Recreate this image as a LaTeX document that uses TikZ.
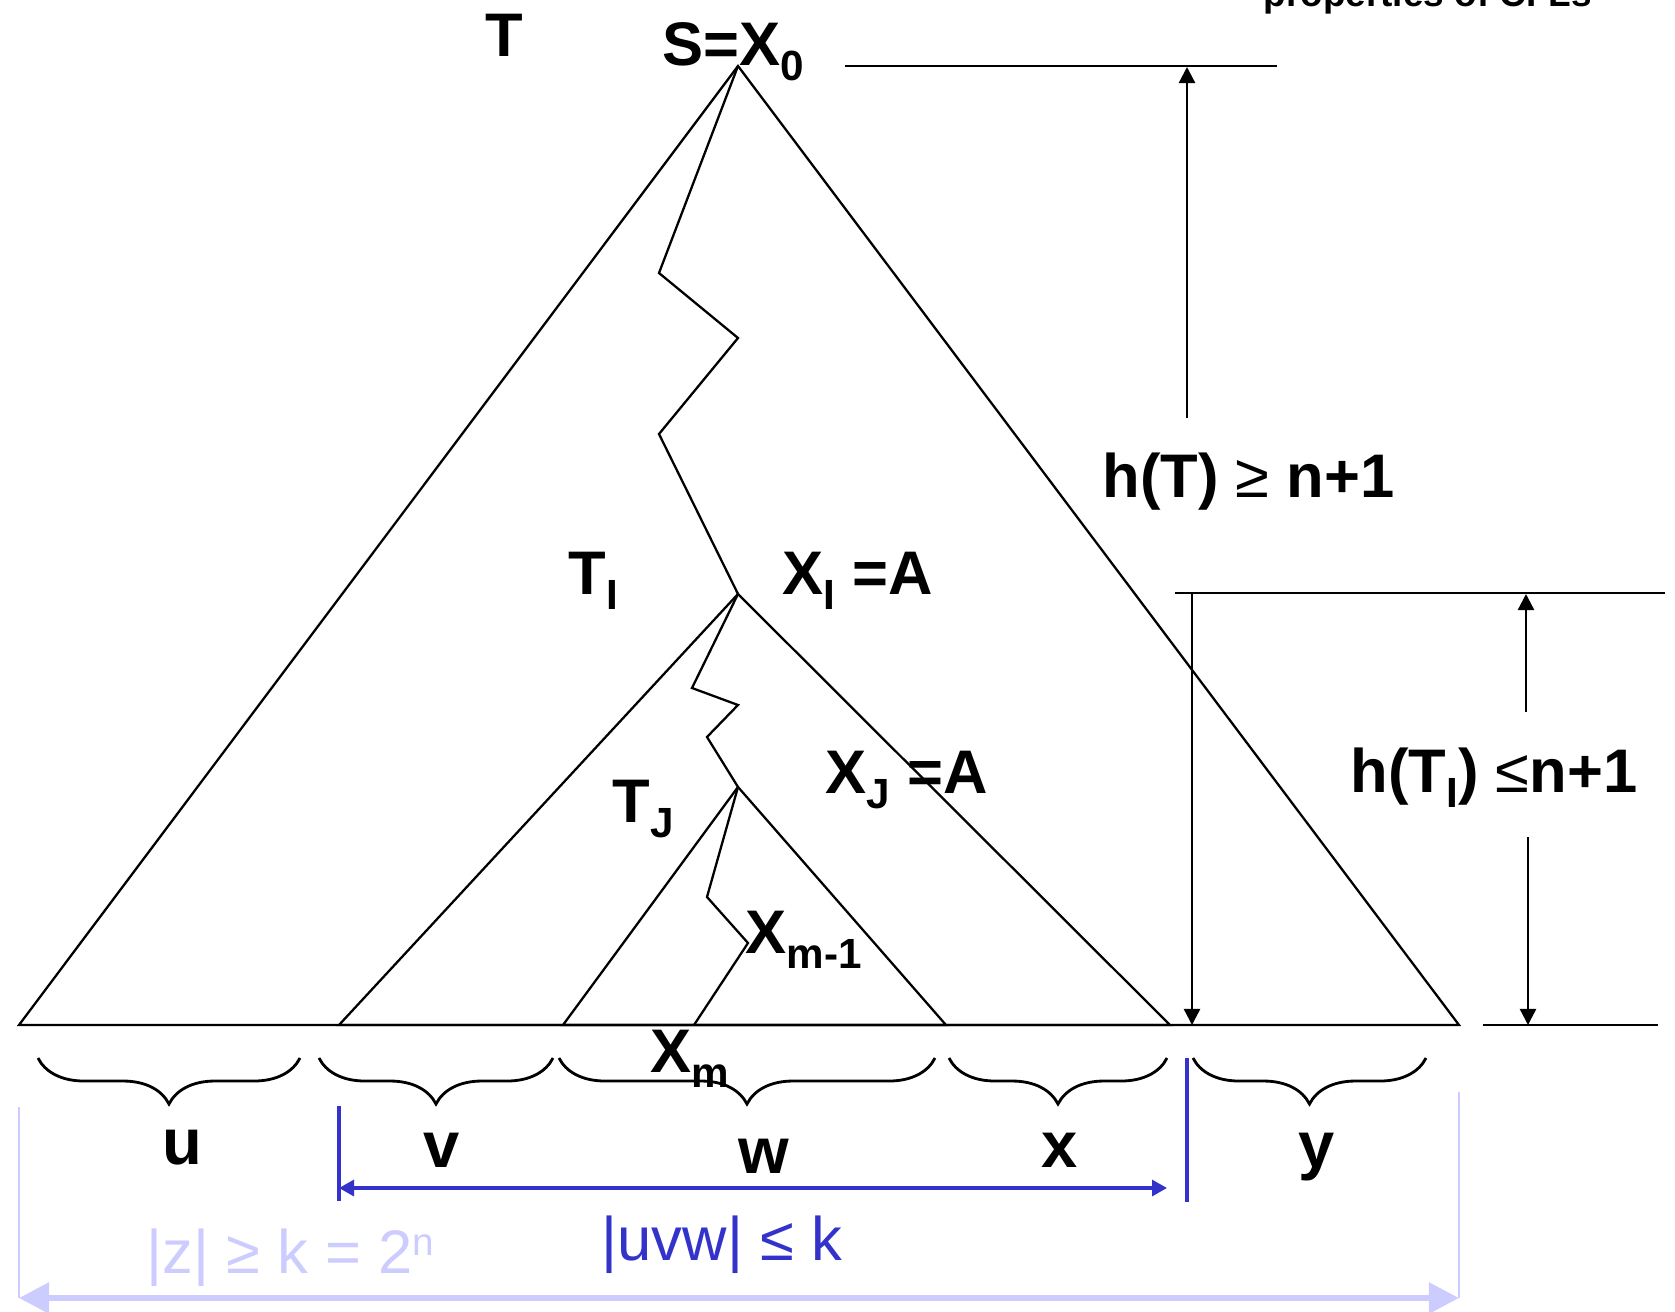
\documentclass[tikz,border=0pt]{standalone}
\usepackage{fontspec}
\setmainfont{Liberation Sans}
\usetikzlibrary{arrows.meta,decorations.pathreplacing}
\definecolor{pumpInk}{HTML}{000000}
\definecolor{pumpBlue}{HTML}{3333CC}
\definecolor{pumpPale}{HTML}{CCCCFF}
\newcommand{\lowidx}[1]{\raisebox{-4.5pt}{\fontsize{12}{12}\selectfont #1}}
\tikzset{
  tree/.style     = {draw=pumpInk, line width=0.65pt},
  hrule/.style    = {draw=pumpInk, line width=0.65pt},
  hlink/.style    = {-{Triangle[length=1.6mm,width=1.6mm]}, line width=0.65pt,
                     draw=pumpInk},
  wbrace/.style   = {draw=pumpInk, line width=0.8pt, decorate,
                     decoration={brace, mirror, amplitude=0.46cm}},
  lbl/.style      = {font=\bfseries\fontsize{17.5}{20}\selectfont,
                     inner sep=0pt, anchor=base west},
  wordlbl/.style  = {font=\bfseries\fontsize{18.5}{20}\selectfont,
                     inner sep=0pt, anchor=base},
  uvwline/.style  = {draw=pumpBlue, line width=0.9pt},
  uvwlink/.style  = {{Triangle[length=1.5mm,width=1.6mm]}-{Triangle[length=1.5mm,width=1.6mm]},
                     line width=0.9pt, draw=pumpBlue},
  zline/.style    = {draw=pumpPale, line width=0.8pt},
  zlink/.style    = {{Triangle[length=3mm,width=3mm]}-{Triangle[length=3mm,width=3mm]},
                     line width=1.6pt, draw=pumpPale},
}

\begin{document}
\begin{tikzpicture}[x=0.01cm, y=-0.01cm]
  \useasboundingbox (0,0) rectangle (1675,1312);

  % tree corners
  \coordinate (x0) at (738,66);
  \coordinate (bl) at (19,1025);
  \coordinate (br) at (1459,1025);
  \coordinate (xi) at (738,594);
  \coordinate (il) at (339,1025);
  \coordinate (ir) at (1170,1025);
  \coordinate (xj) at (738,787);
  \coordinate (jl) at (563,1025);
  \coordinate (jr) at (946,1025);
  \coordinate (xm) at (694,1025);

  % |z| and |uvw| rulers
  \coordinate (zl) at (19,1298);
  \coordinate (zr) at (1459,1298);
  \draw[zline] (19,1107) -- (zl);
  \draw[zline] (1459,1092) -- (zr);
  \draw[zlink] (zl) -- (zr);
  \coordinate (ul) at (339,1188);
  \coordinate (ur) at (1167,1188);
  \draw[uvwline] (339,1106) -- (339,1201);
  \draw[uvwline] (1187,1058) -- (1187,1202);
  \draw[uvwlink] (ul) -- (ur);

  % triangles and paths
  \draw[tree] (x0) -- (bl) -- (br) -- cycle;
  \draw[tree] (xi) -- (il) -- (ir) -- cycle;
  \draw[tree] (xj) -- (jl) -- (jr) -- cycle;
  \draw[tree] (x0) -- (659,273) -- (738,338) -- (659,434) -- (xi);
  \draw[tree] (xi) -- (692,688) -- (738,705) -- (707,737) -- (xj);
  \draw[tree] (xj) -- (707,897) -- (748,943) -- (xm);

  % heights
  \coordinate (hTtop) at (1187,67);
  \coordinate (hTfoot) at (1187,418);
  \draw[hrule] (845,66) -- (1277,66);
  \draw[hlink] (hTfoot) -- (hTtop);
  \draw[hrule] (1175,593) -- (1665,593);
  \draw[hrule] (1483,1025) -- (1658,1025);
  \coordinate (hIdown) at (1192,1025);
  \coordinate (hItop) at (1192,593);
  \draw[hlink] (hItop) -- (hIdown);
  \coordinate (hIup) at (1526,594);
  \coordinate (hIlow) at (1528,1025);
  \draw[hlink] (1526,712) -- (hIup);
  \draw[hlink] (1528,837) -- (hIlow);

  % braces
  \draw[wbrace] (38,1058) -- (300,1058);
  \draw[wbrace] (319,1058) -- (553,1058);
  \draw[wbrace] (559,1058) -- (935,1058);
  \draw[wbrace] (949,1058) -- (1167,1058);
  \draw[wbrace] (1193,1058) -- (1426,1058);

  % labels
  \node[font=\bfseries\fontsize{10.5}{12}\selectfont, inner sep=0pt,
        anchor=base west] (title) at (1263,6) {properties of CFLs};
  \node[lbl] (tlbl) at (485,57) {T};
  \node[lbl] (rootlbl) at (662,65) {S=X\lowidx{0}};
  \node[lbl] (tilbl) at (568,594) {T\lowidx{I}};
  \node[lbl] (xilbl) at (782,594) {X\lowidx{I} =A};
  \node[lbl] (tjlbl) at (612,822) {T\lowidx{J}};
  \node[lbl] (xjlbl) at (825,793) {X\lowidx{J} =A};
  \node[lbl] (xmmlbl) at (745,953) {X\lowidx{m-1}};
  \node[lbl] (xmlbl) at (650,1072) {X\lowidx{m}};
  \node[lbl] (hTlbl) at (1102,497) {h(T) \textmd{≥} n+1};
  \node[lbl] (hIlbl) at (1350,792) {h(T\lowidx{I}) \textmd{≤}n+1};

  \node[wordlbl] (uword) at (182,1164) {u};
  \node[wordlbl] (vword) at (442,1167) {v};
  \node[wordlbl] (wword) at (764,1173) {w};
  \node[wordlbl] (xword) at (1060,1167) {x};
  \node[wordlbl] (yword) at (1317,1167) {y};

  \node[font=\fontsize{17.5}{20}\selectfont, text=pumpBlue, inner sep=0pt,
        anchor=base west] (uvwlbl) at (601,1260) {|uvw| ≤ k};
  \node[font=\fontsize{17.5}{20}\selectfont, text=pumpPale, inner sep=0pt,
        anchor=base west] (zlbl) at (146,1273)
        {|z| ≥ k = 2\raisebox{5pt}{\fontsize{11}{11}\selectfont n}};
\end{tikzpicture}
\end{document}
